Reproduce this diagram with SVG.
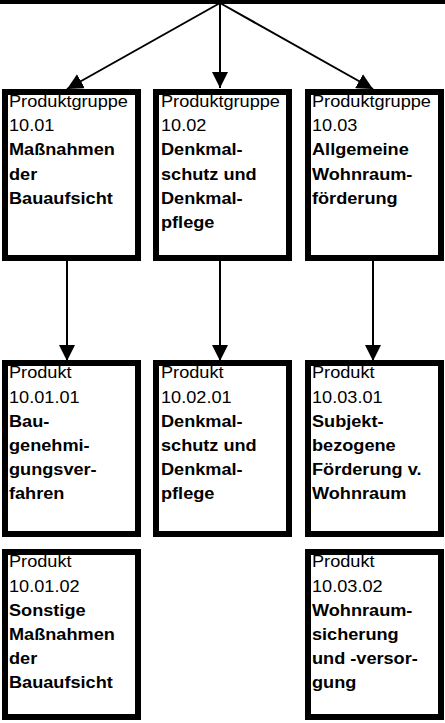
<svg xmlns="http://www.w3.org/2000/svg" width="445" height="723" viewBox="0 0 445 723">
<style>
.box{fill:#fff;stroke:#000;stroke-width:6}
.con{stroke:#000;stroke-width:2;fill:none}
text{font-family:"Liberation Sans",Arial,sans-serif;font-size:16.5px;fill:#000}
.b{font-weight:bold}
</style>
<defs>
<marker id="ah" markerUnits="userSpaceOnUse" markerWidth="16" markerHeight="16" viewBox="0 0 16 16" refX="16" refY="8" orient="auto">
<path d="M0,0 L16,8 L0,16 Z" fill="#000"/>
</marker>
</defs>
<rect x="0" y="0" width="445" height="4" fill="#000"/>
<g id="connectors">
<line class="con" x1="220" y1="3" x2="67" y2="89" marker-end="url(#ah)"/>
<line class="con" x1="220" y1="3" x2="220" y2="88" marker-end="url(#ah)"/>
<line class="con" x1="220" y1="3" x2="373" y2="89" marker-end="url(#ah)"/>
<line class="con" x1="67" y1="261" x2="67" y2="361" marker-end="url(#ah)"/>
<line class="con" x1="220" y1="261" x2="220" y2="361" marker-end="url(#ah)"/>
<line class="con" x1="373" y1="261" x2="373" y2="361" marker-end="url(#ah)"/>
</g>
<g id="pg1001">
<rect class="box" x="5" y="92" width="133" height="166"/>
<g transform="translate(9,0) scale(1.1,1)">
<text x="0" y="107">Produktgruppe</text>
<text x="0" y="131.2">10.01</text>
<text class="b" x="0" y="155.4">Maßnahmen</text>
<text class="b" x="0" y="179.6">der</text>
<text class="b" x="0" y="203.8">Bauaufsicht</text>
</g>
</g>
<g id="pg1002">
<rect class="box" x="156" y="92" width="133" height="166"/>
<g transform="translate(161,0) scale(1.1,1)">
<text x="0" y="107">Produktgruppe</text>
<text x="0" y="131.2">10.02</text>
<text class="b" x="0" y="155.4">Denkmal-</text>
<text class="b" x="0" y="179.6">schutz und</text>
<text class="b" x="0" y="203.8">Denkmal-</text>
<text class="b" x="0" y="228">pflege</text>
</g>
</g>
<g id="pg1003">
<rect class="box" x="308" y="92" width="133" height="166"/>
<g transform="translate(312,0) scale(1.1,1)">
<text x="0" y="107">Produktgruppe</text>
<text x="0" y="131.2">10.03</text>
<text class="b" x="0" y="155.4">Allgemeine</text>
<text class="b" x="0" y="179.6">Wohnraum-</text>
<text class="b" x="0" y="203.8">förderung</text>
</g>
</g>
<g id="p100101">
<rect class="box" x="5" y="363" width="133" height="171"/>
<g transform="translate(9,0) scale(1.1,1)">
<text x="0" y="378.5">Produkt</text>
<text x="0" y="402.7">10.01.01</text>
<text class="b" x="0" y="426.9">Bau-</text>
<text class="b" x="0" y="451.1">genehmi-</text>
<text class="b" x="0" y="475.3">gungsver-</text>
<text class="b" x="0" y="499.5">fahren</text>
</g>
</g>
<g id="p100201">
<rect class="box" x="156" y="363" width="133" height="171"/>
<g transform="translate(161,0) scale(1.1,1)">
<text x="0" y="378.5">Produkt</text>
<text x="0" y="402.7">10.02.01</text>
<text class="b" x="0" y="426.9">Denkmal-</text>
<text class="b" x="0" y="451.1">schutz und</text>
<text class="b" x="0" y="475.3">Denkmal-</text>
<text class="b" x="0" y="499.5">pflege</text>
</g>
</g>
<g id="p100301">
<rect class="box" x="308" y="363" width="133" height="171"/>
<g transform="translate(312,0) scale(1.1,1)">
<text x="0" y="378.5">Produkt</text>
<text x="0" y="402.7">10.03.01</text>
<text class="b" x="0" y="426.9">Subjekt-</text>
<text class="b" x="0" y="451.1">bezogene</text>
<text class="b" x="0" y="475.3">Förderung v.</text>
<text class="b" x="0" y="499.5">Wohnraum</text>
</g>
</g>
<g id="p100102">
<rect class="box" x="5" y="552" width="133" height="165"/>
<g transform="translate(9,0) scale(1.1,1)">
<text x="0" y="567.5">Produkt</text>
<text x="0" y="591.7">10.01.02</text>
<text class="b" x="0" y="615.9">Sonstige</text>
<text class="b" x="0" y="640.1">Maßnahmen</text>
<text class="b" x="0" y="664.3">der</text>
<text class="b" x="0" y="688.5">Bauaufsicht</text>
</g>
</g>
<g id="p100302">
<rect class="box" x="308" y="552" width="133" height="165"/>
<g transform="translate(312,0) scale(1.1,1)">
<text x="0" y="567.5">Produkt</text>
<text x="0" y="591.7">10.03.02</text>
<text class="b" x="0" y="615.9">Wohnraum-</text>
<text class="b" x="0" y="640.1">sicherung</text>
<text class="b" x="0" y="664.3">und -versor-</text>
<text class="b" x="0" y="688.5">gung</text>
</g>
</g>
</svg>
